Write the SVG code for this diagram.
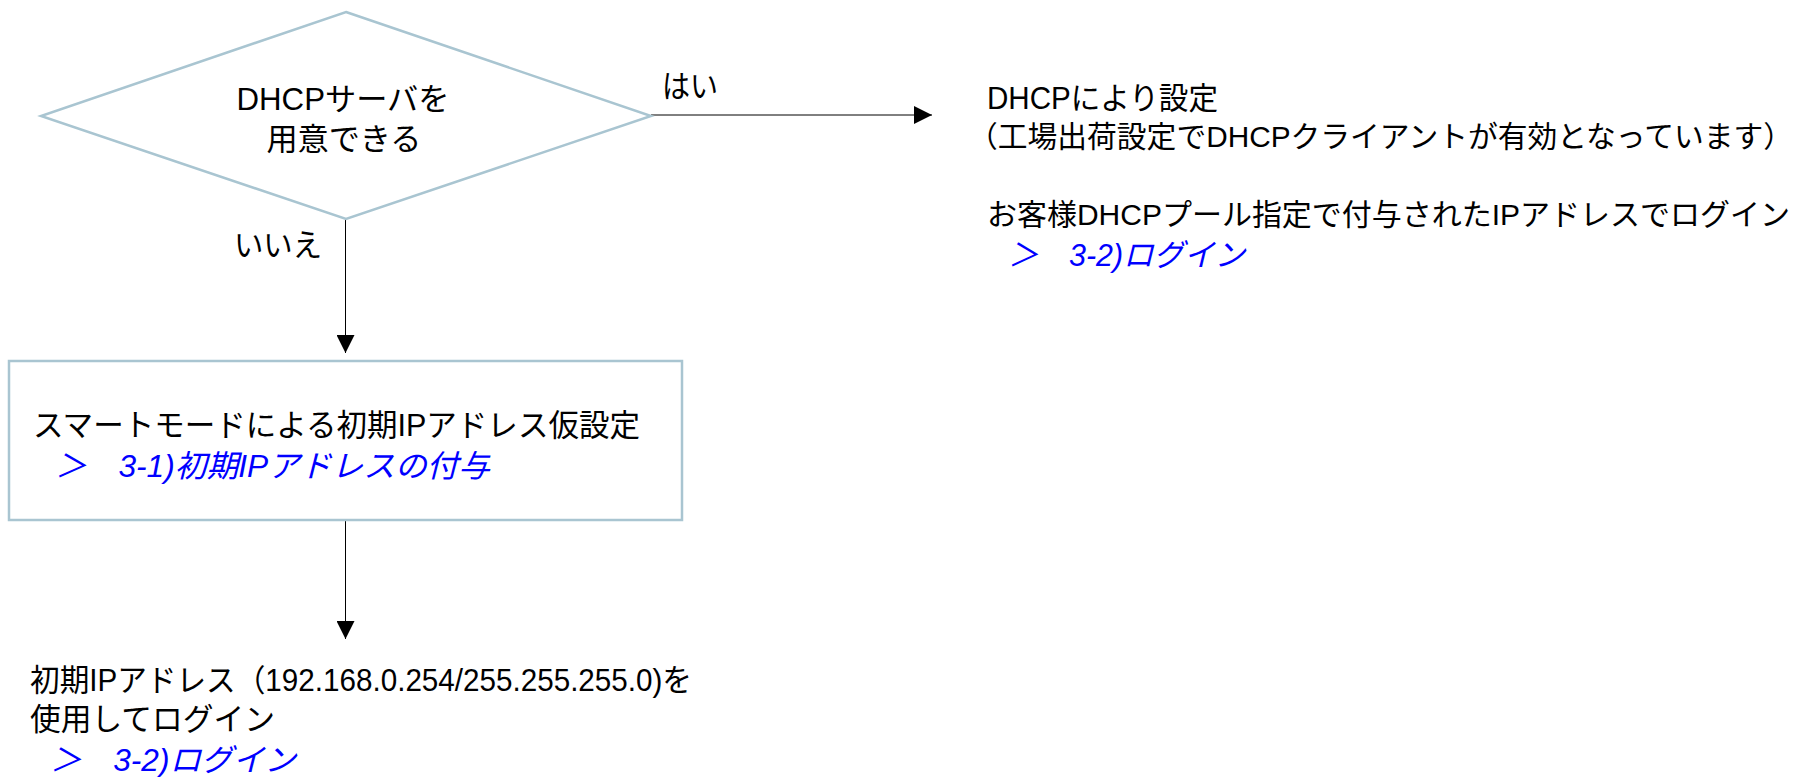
<svg xmlns="http://www.w3.org/2000/svg" width="1795" height="777" viewBox="0 0 1795 777">
<defs>
<style>
text{font-family:"Liberation Sans","Noto Sans CJK JP",sans-serif;font-size:31px;fill:#000}
.c{text-anchor:middle}
.link{font-style:italic;fill:#0000ff}
.shape{fill:#fff;stroke:#a9c5d1;stroke-width:2.5}
.edge{stroke:#000;stroke-width:1;fill:none}
</style>
<marker id="ah" viewBox="0 0 18 18" refX="18" refY="9" markerWidth="18" markerHeight="18" markerUnits="userSpaceOnUse" orient="auto">
<path d="M0,0 L18,9 L0,18 Z" fill="#000"/>
</marker>
</defs>
<rect width="1795" height="777" fill="#fff"/>
<g id="connectors">
<line class="edge" x1="651" y1="115" x2="932" y2="115" stroke="#333" marker-end="url(#ah)"/>
<line class="edge" x1="345.5" y1="219" x2="345.5" y2="353" marker-end="url(#ah)"/>
<line class="edge" x1="345.5" y1="521" x2="345.5" y2="639" marker-end="url(#ah)"/>
<text x="662" y="97" textLength="56" lengthAdjust="spacingAndGlyphs">はい</text>
<text x="234" y="256" textLength="88" lengthAdjust="spacingAndGlyphs">いいえ</text>
</g>
<g id="decision">
<polygon class="shape" points="346,12 651,116 346,219 41,116"/>
<text class="c" x="343" y="110" textLength="213" lengthAdjust="spacingAndGlyphs">DHCPサーバを</text>
<text class="c" x="344" y="150" textLength="155" lengthAdjust="spacingAndGlyphs">用意できる</text>
</g>
<g id="dhcp-result">
<text x="987" y="109" textLength="231" lengthAdjust="spacingAndGlyphs">DHCPにより設定</text>
<text x="968" y="147" style="font-size:29.5px" textLength="825" lengthAdjust="spacingAndGlyphs">（工場出荷設定でDHCPクライアントが有効となっています）</text>
<text x="987" y="225" style="font-size:29.8px" textLength="803" lengthAdjust="spacingAndGlyphs">お客様DHCPプール指定で付与されたIPアドレスでログイン</text>
<text class="link" x="1008" y="266" textLength="237" lengthAdjust="spacingAndGlyphs">＞　3-2)ログイン</text>
</g>
<g id="smart-mode">
<rect class="shape" x="9" y="361" width="673" height="159"/>
<text x="33" y="436" textLength="607" lengthAdjust="spacingAndGlyphs">スマートモードによる初期IPアドレス仮設定</text>
<text class="link" x="55" y="477" textLength="435" lengthAdjust="spacingAndGlyphs">＞　3-1)初期IPアドレスの付与</text>
</g>
<g id="initial-ip">
<text x="30" y="691" textLength="662" lengthAdjust="spacingAndGlyphs">初期IPアドレス（192.168.0.254/255.255.255.0)を</text>
<text x="30" y="730" textLength="245" lengthAdjust="spacingAndGlyphs">使用してログイン</text>
<text class="link" x="50" y="771" textLength="246" lengthAdjust="spacingAndGlyphs">＞　3-2)ログイン</text>
</g>
</svg>
